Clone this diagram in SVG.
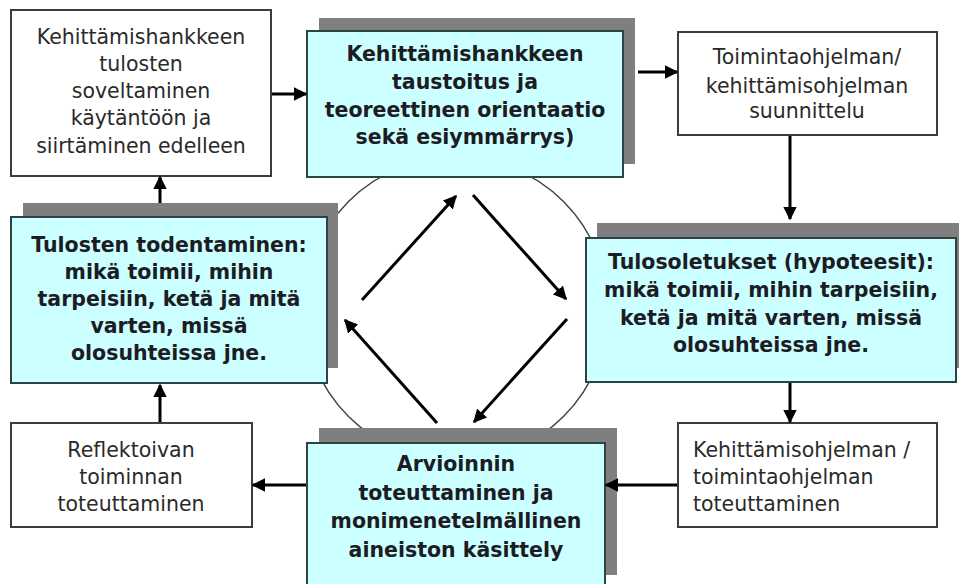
<svg xmlns="http://www.w3.org/2000/svg" width="959" height="584" viewBox="0 0 959 584">
<defs>
<style>
.w{fill:#ffffff;stroke:#3c3c3c;stroke-width:2}
.c{fill:#ccffff;stroke:#2e4444;stroke-width:2}
.sh{fill:#7f7f7f}
.t{font-family:"DejaVu Sans",Verdana,sans-serif;font-size:20.5px;fill:#2a2a2a;text-anchor:middle}
.b{font-family:"DejaVu Sans",Verdana,sans-serif;font-size:20.5px;font-weight:bold;fill:#1c1c24;text-anchor:middle}
.ln{stroke:#000;stroke-width:3;fill:none;marker-end:url(#ah)}
</style>
<marker id="ah" viewBox="0 0 10 10" refX="9" refY="5" markerWidth="4.5" markerHeight="4.5" orient="auto" markerUnits="strokeWidth">
<path d="M0,0 L10,5 L0,10 z" fill="#000"/>
</marker>
</defs>
<rect width="959" height="584" fill="#ffffff"/>
<circle cx="456" cy="309" r="152" fill="#ffffff" stroke="#444" stroke-width="1.5"/>

<g id="n1">
<rect class="w" x="11" y="10" width="260" height="166"/>
<text class="t" x="141" y="44">Kehittämishankkeen</text>
<text class="t" x="141" y="71">tulosten</text>
<text class="t" x="141" y="98">soveltaminen</text>
<text class="t" x="141" y="125">käytäntöön ja</text>
<text class="t" x="141" y="153">siirtäminen edelleen</text>
</g>

<g id="n2">
<rect class="sh" x="319" y="18" width="316" height="146"/>
<rect class="c" x="307" y="31" width="316" height="146"/>
<text class="b" x="465" y="61">Kehittämishankkeen</text>
<text class="b" x="465" y="89">taustoitus ja</text>
<text class="b" x="465" y="117">teoreettinen orientaatio</text>
<text class="b" x="465" y="144">sekä esiymmärrys)</text>
</g>

<g id="n3">
<rect class="w" x="678" y="32" width="259" height="103"/>
<text class="t" x="807" y="64">Toimintaohjelman/</text>
<text class="t" x="807" y="93">kehittämisohjelman</text>
<text class="t" x="807" y="118">suunnittelu</text>
</g>

<g id="n4">
<rect class="sh" x="597" y="223" width="372" height="145"/>
<rect class="c" x="586" y="238" width="370" height="144"/>
<text class="b" x="771" y="269">Tulosoletukset (hypoteesit):</text>
<text class="b" x="771" y="297">mikä toimii, mihin tarpeisiin,</text>
<text class="b" x="771" y="325">ketä ja mitä varten, missä</text>
<text class="b" x="771" y="352">olosuhteissa jne.</text>
</g>

<g id="n5">
<rect class="w" x="678" y="423" width="259" height="104"/>
<text class="t" x="693" y="457" style="text-anchor:start">Kehittämisohjelman /</text>
<text class="t" x="693" y="484" style="text-anchor:start">toimintaohjelman</text>
<text class="t" x="693" y="511" style="text-anchor:start">toteuttaminen</text>
</g>

<g id="n6">
<rect class="sh" x="319" y="428" width="298" height="147"/>
<rect class="c" x="307" y="443" width="298" height="150"/>
<text class="b" x="456" y="471">Arvioinnin</text>
<text class="b" x="456" y="500">toteuttaminen ja</text>
<text class="b" x="456" y="528">monimenetelmällinen</text>
<text class="b" x="456" y="557">aineiston käsittely</text>
</g>

<g id="n7">
<rect class="w" x="11" y="423" width="241" height="104"/>
<text class="t" x="131" y="457">Reflektoivan</text>
<text class="t" x="131" y="484">toiminnan</text>
<text class="t" x="131" y="511">toteuttaminen</text>
</g>

<g id="n8">
<rect class="sh" x="23" y="203" width="315" height="165"/>
<rect class="c" x="11" y="217" width="316" height="166"/>
<text class="b" x="169" y="252">Tulosten todentaminen:</text>
<text class="b" x="169" y="279">mikä toimii, mihin</text>
<text class="b" x="169" y="306">tarpeisiin, ketä ja mitä</text>
<text class="b" x="169" y="333">varten, missä</text>
<text class="b" x="169" y="360">olosuhteissa jne.</text>
</g>

<g id="connectors">
<line class="ln" x1="272" y1="94" x2="306" y2="94"/>
<line class="ln" x1="638" y1="72" x2="677" y2="72"/>
<line class="ln" x1="790" y1="136" x2="790" y2="219"/>
<line class="ln" x1="790" y1="383" x2="790" y2="422"/>
<line class="ln" x1="677" y1="485" x2="606" y2="485"/>
<line class="ln" x1="306" y1="485" x2="253" y2="485"/>
<line class="ln" x1="160" y1="422" x2="160" y2="385"/>
<line class="ln" x1="160" y1="203" x2="160" y2="177"/>
<line class="ln" x1="362" y1="300" x2="456" y2="196"/>
<line class="ln" x1="473" y1="195" x2="566" y2="299"/>
<line class="ln" x1="567" y1="319" x2="474" y2="422"/>
<line class="ln" x1="437" y1="423" x2="345" y2="320"/>
</g>
</svg>
